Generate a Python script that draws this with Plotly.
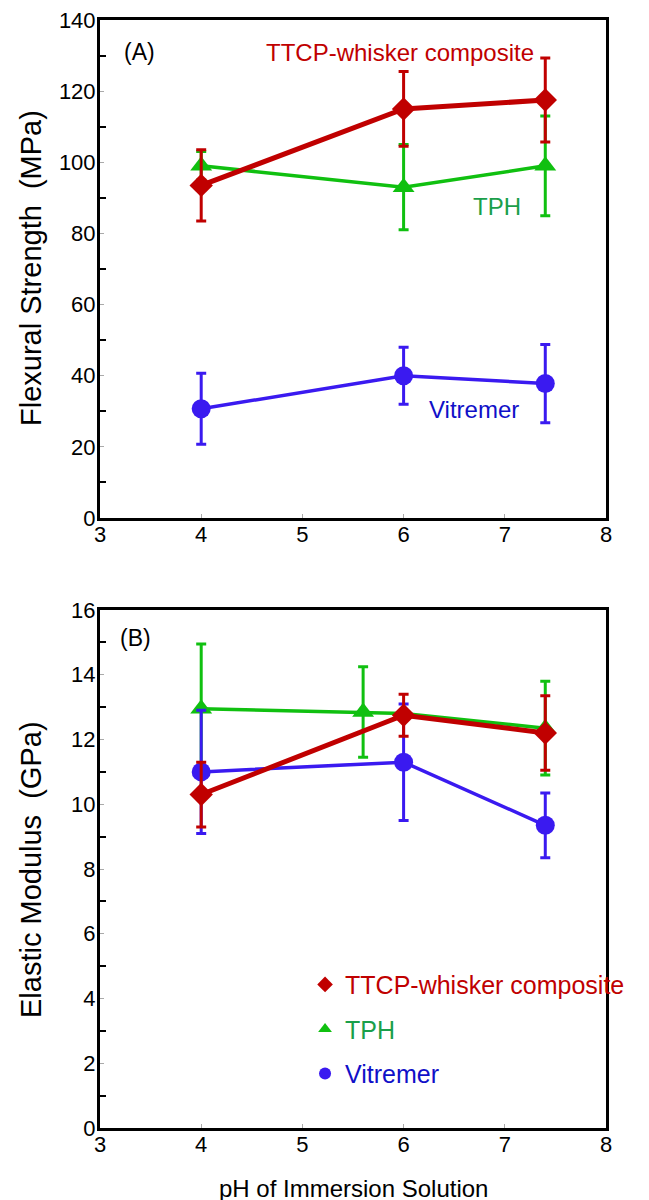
import numpy as np
import plotly.graph_objects as go

# pH values
ph = [4, 6, 7.4]
ph_tph_b = [4, 5.6, 6, 7.4]

# (A) flexural strength, MPa
flex_ttcp = [93.5, 115.0, 117.5]
flex_ttcp_err = [10.0, 10.5, 11.8]
flex_tph = [99.0, 93.0, 99.0]
flex_tph_err = [4.0, 12.0, 14.0]
flex_vit = [30.7, 40.0, 37.8]
flex_vit_err = [10.0, 8.0, 11.0]

# (B) elastic modulus, GPa
mod_ttcp = [10.3, 12.75, 12.2]
mod_ttcp_err = [1.0, 0.65, 1.15]
mod_tph = [12.95, 12.85, 12.8, 12.35]
mod_tph_err = [2.0, 1.4, np.nan, 1.45]
mod_vit = [11.0, 11.3, 9.35]
mod_vit_err = [1.9, 1.8, 1.0]

names = ["TTCP-whisker composite", "TPH", "Vitremer"]

RED = "#C00000"
GREEN = "#10C010"
BLUE = "#3A1AF0"
RED_TXT = "#C00000"
GREEN_TXT = "#1A9F4A"
BLUE_TXT = "#1010C8"
FONT = "Liberation Sans, Arial, sans-serif"

# page body adds an 8px offset, so layout positions are shifted by it
OFF = 8
W, H = 649, 1200

fig = go.Figure()


def series(x, y, err, color, symbol, lw, size, xa, ya):
    fig.add_trace(go.Scatter(
        x=x, y=y, xaxis=xa, yaxis=ya, mode="lines+markers",
        line=dict(color=color, width=lw),
        marker=dict(color=color, symbol=symbol, size=size),
        error_y=dict(type="data", array=err, color=color, thickness=3, width=5),
        showlegend=False, cliponaxis=False,
    ))


# panel A
series(ph, flex_tph, flex_tph_err, GREEN, "triangle-up", 3.5, 19, "x", "y")
series(ph, flex_vit, flex_vit_err, BLUE, "circle", 3.5, 19, "x", "y")
series(ph, flex_ttcp, flex_ttcp_err, RED, "diamond", 5, 18, "x", "y")

# panel B
series(ph_tph_b, mod_tph, mod_tph_err, GREEN, "triangle-up", 3.5, 19, "x2", "y2")
series(ph, mod_vit, mod_vit_err, BLUE, "circle", 3.5, 19, "x2", "y2")
series(ph, mod_ttcp, mod_ttcp_err, RED, "diamond", 5, 18, "x2", "y2")

# legend-only markers (panel B legend)
for nm, col, tcol, sym in zip(names, [RED, GREEN, BLUE], [RED_TXT, GREEN_TXT, BLUE_TXT],
                              ["diamond", "triangle-up", "circle"]):
    fig.add_trace(go.Scatter(
        x=[None], y=[None], xaxis="x2", yaxis="y2", mode="markers",
        marker=dict(color=col, symbol=sym, size=16),
        name=f"<span style='color:{tcol}'>{nm}</span>",
        legendgroup=nm, showlegend=True,
    ))


def px_x(p):
    return (p - OFF) / W


def px_y(p):
    return 1 - (p - OFF) / H


xdom = [px_x(100), px_x(606)]
ax_common = dict(
    showline=True, linecolor="black", linewidth=3, mirror=True,
    showgrid=False, zeroline=False, ticks="inside", automargin=False,
    ticklabeloverflow="allow",
    tickfont=dict(size=22, color="black", family=FONT),
)
xaxis_cfg = dict(ax_common, range=[3, 8], dtick=1, tick0=3, ticklen=4,
                 tickcolor="#aaaaaa", tickwidth=1, domain=xdom, ticklabelstandoff=-5)
fig.update_layout(
    width=W, height=H,
    paper_bgcolor="white", plot_bgcolor="white",
    margin=dict(l=0, r=0, t=0, b=0),
    font=dict(family=FONT, color="black"),
    xaxis=dict(xaxis_cfg, anchor="y"),
    yaxis=dict(ax_common, range=[0, 140], dtick=20, ticklen=4, tickcolor="#aaaaaa",
               tickwidth=1, domain=[px_y(518), px_y(20)], anchor="x", ticklabelstandoff=-3,
               minor=dict(dtick=10, ticks="inside", ticklen=6, tickcolor="black", tickwidth=2)),
    xaxis2=dict(xaxis_cfg, anchor="y2"),
    yaxis2=dict(ax_common, range=[0, 16], dtick=2, ticklen=4, tickcolor="#aaaaaa",
                tickwidth=1, domain=[px_y(1128), px_y(610)], anchor="x2", ticklabelstandoff=-3,
                minor=dict(dtick=1, ticks="inside", ticklen=6, tickcolor="black", tickwidth=2)),
    legend=dict(x=0.4577, y=0.2053, xanchor="left", yanchor="top",
                bgcolor="rgba(0,0,0,0)", font=dict(size=25, family=FONT),
                tracegroupgap=9, itemsizing="constant", itemwidth=30),
)

ann = [
    dict(x=3.39, y=131, xref="x", yref="y", text="(A)", font=dict(size=23)),
    dict(x=5.96, y=131, xref="x", yref="y", text="TTCP-whisker composite",
         font=dict(size=24, color=RED_TXT)),
    dict(x=6.92, y=87.6, xref="x", yref="y", text="TPH", font=dict(size=24, color=GREEN_TXT)),
    dict(x=6.7, y=30.4, xref="x", yref="y", text="Vitremer", font=dict(size=24, color=BLUE_TXT)),
    dict(x=3.35, y=15.15, xref="x2", yref="y2", text="(B)", font=dict(size=23)),
    dict(x=px_x(31), y=px_y(268), xref="paper", yref="paper", text="Flexural Strength  (MPa)",
         textangle=-90, font=dict(size=29)),
    dict(x=px_x(31), y=px_y(870), xref="paper", yref="paper", text="Elastic Modulus  (GPa)",
         textangle=-90, font=dict(size=29)),
    dict(x=px_x(353), y=px_y(1188), xref="paper", yref="paper", text="pH of Immersion Solution",
         font=dict(size=24)),
]
for a in ann:
    a.setdefault("showarrow", False)
    a.setdefault("xanchor", "center")
    a.setdefault("yanchor", "middle")
    a["font"].setdefault("family", FONT)
    a["font"].setdefault("color", "black")
    fig.add_annotation(**a)

fig.write_html("out.html")
